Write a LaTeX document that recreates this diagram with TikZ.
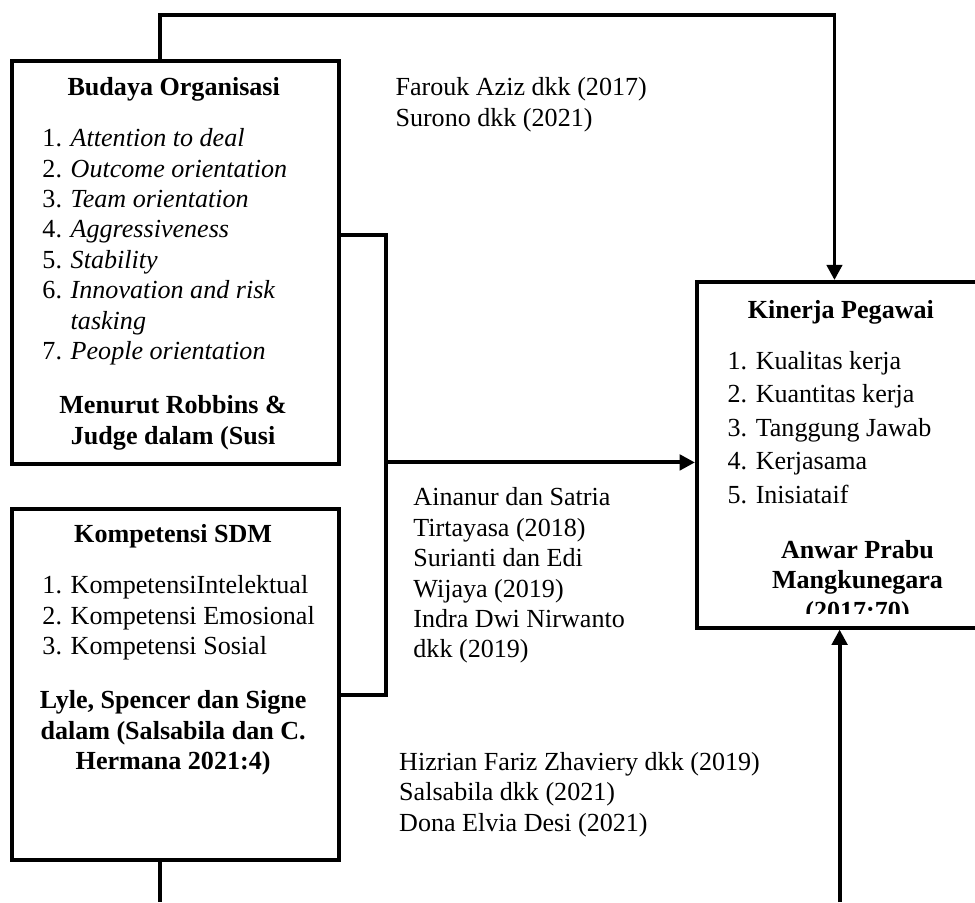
\documentclass[tikz,border=0pt]{standalone}
\usepackage{fontspec}
\setmainfont{Liberation Serif}
\usetikzlibrary{arrows.meta, positioning, calc}

\newcommand{\nr}[1]{\makebox[13pt][l]{#1}}

\begin{document}
\begin{tikzpicture}[
    font=\fontsize{12}{14}\selectfont,
    box/.style={draw, line width=1.8pt, anchor=north west, inner sep=0pt},
    link/.style={line width=1.8pt},
    arrow/.style={line width=1.8pt, -{Triangle[length=7pt, width=7pt]}},
    txt/.style={inner sep=0pt, align=left, anchor=north west},
    head/.style={inner sep=0pt, align=center, anchor=north, font=\fontsize{12}{14}\selectfont\bfseries}]
    \useasboundingbox (0,0) rectangle (15.77,14.59);

    % boxes
    \node[box, minimum width=5.29cm, minimum height=6.52cm] (budaya) at (0.16,13.63) {};
    \node[box, minimum width=5.29cm, minimum height=5.68cm] (kompetensi) at (0.16,6.39) {};
    \node[box, minimum width=4.69cm, minimum height=5.59cm] (kinerja) at (11.24,10.06) {};

    % text in the boxes
    \node[head] (budayaHead) at (2.81,13.39) {\strut Budaya Organisasi};
    \node[txt] (budayaList) at (0.68,12.57) {\strut\nr{1.}\textit{Attention to deal}\\
        \nr{2.}\textit{Outcome orientation}\\
        \nr{3.}\textit{Team orientation}\\
        \nr{4.}\textit{Aggressiveness}\\
        \nr{5.}\textit{Stability}\\
        \nr{6.}\textit{Innovation and risk}\\
        \hspace*{13pt}\textit{tasking}\\
        \nr{7.}\textit{People orientation}};
    \node[head] (budayaRef) at (2.80,8.25) {\strut Menurut Robbins \&\\ Judge dalam (Susi};

    \node[head] (kompHead) at (2.80,6.17) {\strut Kompetensi SDM};
    \node[txt] (kompList) at (0.68,5.34) {\strut\nr{1.}KompetensiIntelektual\\
        \nr{2.}Kompetensi Emosional\\
        \nr{3.}Kompetensi Sosial};
    \node[head] (kompRef) at (2.80,3.48) {\strut Lyle, Spencer dan Signe\\ dalam (Salsabila dan C.\\ Hermana 2021:4)};

    \node[head] (kinerjaHead) at (13.60,9.79) {\strut Kinerja Pegawai};
    \node[txt, font=\fontsize{12}{15.4}\selectfont] (kinerjaList) at (11.76,9.00) {\strut\nr{1.}Kualitas kerja\\
        \nr{2.}Kuantitas kerja\\
        \nr{3.}Tanggung Jawab\\
        \nr{4.}Kerjasama\\
        \nr{5.}Inisiataif};
    \begin{scope}
        \clip (11.24,4.67) rectangle (16.2,10.06);
        \node[head] (kinerjaRef) at (13.87,5.91) {\strut Anwar Prabu\\ Mangkunegara\\ (2017:70)};
    \end{scope}

    % references between the boxes
    \node[txt] (refTop) at (6.39,13.39) {\strut Farouk Aziz dkk (2017)\\ Surono dkk (2021)};
    \node[txt] (refMid) at (6.68,6.76) {\strut Ainanur dan Satria\\ Tirtayasa (2018)\\ Surianti dan Edi\\
        Wijaya (2019)\\ Indra Dwi Nirwanto\\ dkk (2019)};
    \node[txt] (refLow) at (6.45,2.48) {\strut Hizrian Fariz Zhaviery dkk (2019)\\ Salsabila dkk (2021)\\
        Dona Elvia Desi (2021)};

    % connectors
    \coordinate (topRow) at (10,14.34);
    \coordinate (bus) at (6.24,7.11);
    \coordinate (footL) at (2.59,0);
    \coordinate (footR) at (13.58,0);

    \draw[arrow] ([xshift=-0.25cm]budaya.north) |- (topRow) -| ([xshift=-0.12cm]kinerja.north);
    \draw[link] ([yshift=0.45cm]budaya.east) -| (bus) |- ([yshift=-0.17cm]kompetensi.east);
    \draw[arrow] (bus) -- (kinerja.west |- bus);
    \draw[link] (footL |- kompetensi.south) -- (footL);
    \draw[arrow] (footR) -- (kinerja.south -| footR);
\end{tikzpicture}
\end{document}
